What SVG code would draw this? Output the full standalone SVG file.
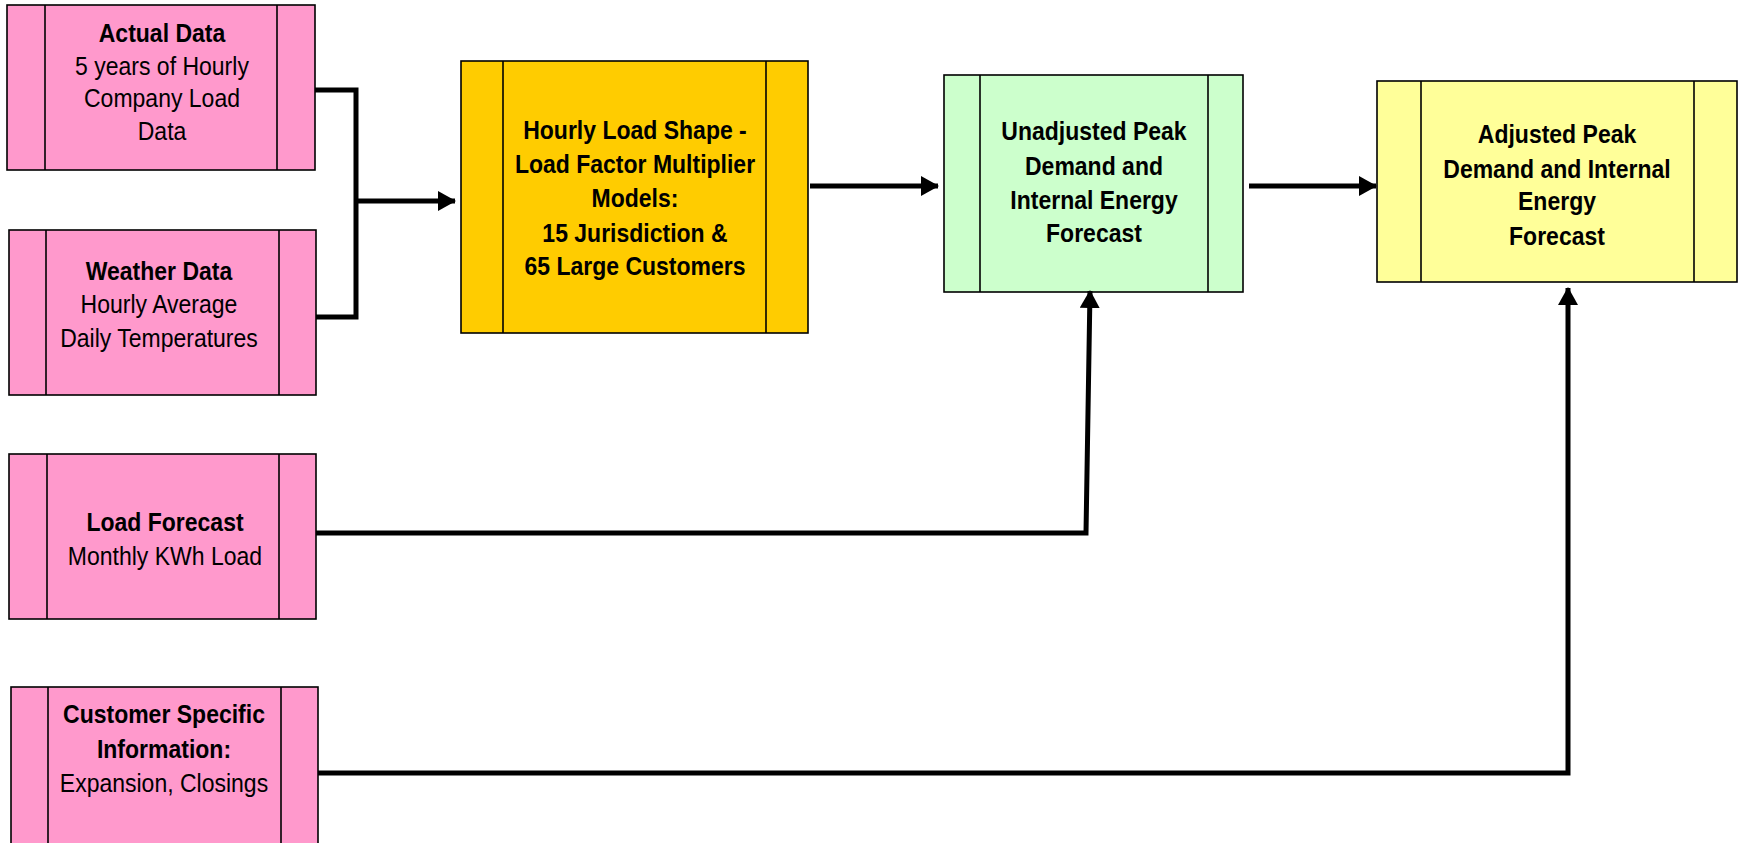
<svg xmlns="http://www.w3.org/2000/svg" width="1739" height="843" viewBox="0 0 1739 843">
<style>
.box{stroke:#000;stroke-width:1.6}
.div{stroke:#000;stroke-width:1.6}
.pink{fill:#FF99CC}
.gold{fill:#FFCC00}
.green{fill:#CCFFCC}
.lyel{fill:#FFFF99}
text{font-family:"Liberation Sans",Arial,sans-serif;font-size:25px;fill:#000;text-anchor:middle;transform-box:fill-box;transform-origin:center;transform:scaleX(0.92)}
.b{font-weight:bold}
.conn{fill:none;stroke:#000;stroke-width:5}
</style>
<defs>
<marker id="ah" markerUnits="userSpaceOnUse" markerWidth="18" markerHeight="20" refX="17" refY="10" orient="auto">
<path d="M0,0 L18,10 L0,20 z" fill="#000"/>
</marker>
</defs>
<rect width="1739" height="843" fill="#fff"/>

<g id="actual-data">
<rect class="box pink" x="7" y="5" width="308" height="165"/>
<line class="div" x1="45" y1="5" x2="45" y2="170"/>
<line class="div" x1="277" y1="5" x2="277" y2="170"/>
<text class="b" x="162" y="42">Actual Data</text>
<text x="162" y="75">5 years of Hourly</text>
<text x="162" y="107">Company Load</text>
<text x="162" y="140">Data</text>
</g>

<g id="weather-data">
<rect class="box pink" x="9" y="230" width="307" height="165"/>
<line class="div" x1="46" y1="230" x2="46" y2="395"/>
<line class="div" x1="279" y1="230" x2="279" y2="395"/>
<text class="b" x="159" y="280">Weather Data</text>
<text x="159" y="313">Hourly Average</text>
<text x="159" y="347">Daily Temperatures</text>
</g>

<g id="load-forecast">
<rect class="box pink" x="9" y="454" width="307" height="165"/>
<line class="div" x1="47" y1="454" x2="47" y2="619"/>
<line class="div" x1="279" y1="454" x2="279" y2="619"/>
<text class="b" x="165" y="531">Load Forecast</text>
<text x="165" y="565">Monthly KWh Load</text>
</g>

<g id="customer-specific">
<rect class="box pink" x="11" y="687" width="307" height="170"/>
<line class="div" x1="48" y1="687" x2="48" y2="857"/>
<line class="div" x1="281" y1="687" x2="281" y2="857"/>
<text class="b" x="164" y="723">Customer Specific</text>
<text class="b" x="164" y="758">Information:</text>
<text x="164" y="792">Expansion, Closings</text>
</g>

<g id="load-shape-models">
<rect class="box gold" x="461" y="61" width="347" height="272"/>
<line class="div" x1="503" y1="61" x2="503" y2="333"/>
<line class="div" x1="766" y1="61" x2="766" y2="333"/>
<text class="b" x="635" y="139">Hourly Load Shape -</text>
<text class="b" x="635" y="173">Load Factor Multiplier</text>
<text class="b" x="635" y="207">Models:</text>
<text class="b" x="635" y="242">15 Jurisdiction &amp;</text>
<text class="b" x="635" y="275">65 Large Customers</text>
</g>

<g id="unadjusted-forecast">
<rect class="box green" x="944" y="75" width="299" height="217"/>
<line class="div" x1="980" y1="75" x2="980" y2="292"/>
<line class="div" x1="1208" y1="75" x2="1208" y2="292"/>
<text class="b" x="1094" y="140">Unadjusted Peak</text>
<text class="b" x="1094" y="175">Demand and</text>
<text class="b" x="1094" y="209">Internal Energy</text>
<text class="b" x="1094" y="242">Forecast</text>
</g>

<g id="adjusted-forecast">
<rect class="box lyel" x="1377" y="81" width="360" height="201"/>
<line class="div" x1="1421" y1="81" x2="1421" y2="282"/>
<line class="div" x1="1694" y1="81" x2="1694" y2="282"/>
<text class="b" x="1557" y="143">Adjusted Peak</text>
<text class="b" x="1557" y="178">Demand and Internal</text>
<text class="b" x="1557" y="210">Energy</text>
<text class="b" x="1557" y="245">Forecast</text>
</g>

<g id="connectors">
<polyline class="conn" points="315,90 356,90 356,317 316,317"/>
<line class="conn" x1="356" y1="201" x2="455" y2="201" marker-end="url(#ah)"/>
<line class="conn" x1="810" y1="186" x2="938" y2="186" marker-end="url(#ah)"/>
<line class="conn" x1="1249" y1="186" x2="1376" y2="186" marker-end="url(#ah)"/>
<polyline class="conn" points="316,533 1086,533 1090,291" marker-end="url(#ah)"/>
<polyline class="conn" points="318,773 1568,773 1568,288" marker-end="url(#ah)"/>
</g>
</svg>
